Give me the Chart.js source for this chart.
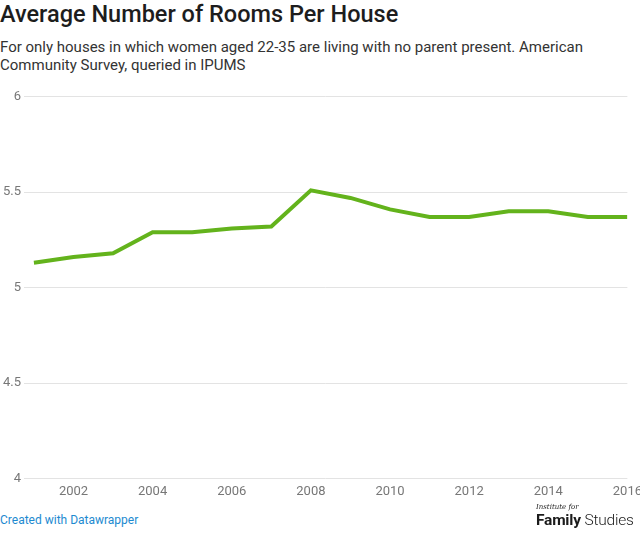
<!DOCTYPE html>
<html>
<head>
<meta charset="utf-8">
<script src="https://cdn.jsdelivr.net/npm/chart.js@4"></script>
<style>
  body { margin: 0; width: 640px; height: 533px; background: #fff; font-family: Roboto, sans-serif; position: relative; overflow: hidden; }
  #title { position: absolute; left: 0; top: 3px; font-size: 23.5px; line-height: 23.5px; font-weight: 500; color: #1d1d1d; white-space: nowrap; }
  #subtitle { position: absolute; left: 0; top: 38px; width: 600px; font-size: 15px; line-height: 18px; color: #333; }
  #wrap { position: absolute; left: 0; top: 86px; width: 648px; height: 420px; }
  #credit { position: absolute; left: 0; top: 513px; font-size: 12px; color: #1d8ad0; }
  #logo { position: absolute; left: 536px; top: 503px; color: #1b1b1b; white-space: nowrap; }
  #logo .small { font-family: "DejaVu Serif", serif; font-style: italic; font-size: 7px; line-height: 8px; }
  #logo .big { font-size: 15.5px; line-height: 18px; letter-spacing: -0.2px; }
  #logo b { font-weight: 700; }
  #logo span { font-weight: 300; }
</style>
</head>
<body>
<div id="title">Average Number of Rooms Per House</div>
<div id="subtitle">For only houses in which women aged 22-35 are living with no parent present. American Community Survey, queried in IPUMS</div>
<div id="wrap"><canvas id="chart"></canvas></div>
<div id="credit">Created with Datawrapper</div>
<div id="logo"><div class="small">Institute for</div><div class="big"><b>Family</b> <span>Studies</span></div></div>
<script>
const years = [2001, 2002, 2003, 2004, 2005, 2006, 2007, 2008, 2009, 2010, 2011, 2012, 2013, 2014, 2015, 2016];
const rooms = [5.13, 5.16, 5.18, 5.29, 5.29, 5.31, 5.32, 5.51, 5.47, 5.41, 5.37, 5.37, 5.40, 5.40, 5.37, 5.37];
const xTicks = [2002, 2004, 2006, 2008, 2010, 2012, 2014, 2016];
const yTicks = [4, 4.5, 5, 5.5, 6];

const points = years.map((y, i) => ({ x: y, y: rooms[i] }));

new Chart(document.getElementById('chart'), {
  type: 'line',
  data: {
    datasets: [{
      data: points,
      borderColor: '#63b31c',
      borderWidth: 4,
      pointRadius: 0,
      tension: 0
    }]
  },
  options: {
    responsive: true,
    maintainAspectRatio: false,
    animation: false,
    layout: { padding: { left: 0, right: 0, top: 4, bottom: 0 } },
    plugins: { legend: { display: false }, tooltip: { enabled: false } },
    scales: {
      x: {
        type: 'linear',
        min: 2000.75,
        max: 2016,
        afterBuildTicks: axis => { axis.ticks = xTicks.map(v => ({ value: v })); },
        grid: { display: false, drawTicks: false },
        border: { display: false },
        ticks: {
          color: '#777',
          font: { family: 'Roboto', size: 13 },
          padding: 6,
          maxRotation: 0,
          autoSkip: false,
          callback: v => String(v)
        }
      },
      y: {
        min: 4,
        max: 6,
        afterBuildTicks: axis => { axis.ticks = yTicks.map(v => ({ value: v })); },
        grid: { color: '#e3e3e3', drawTicks: false },
        border: { display: false },
        ticks: {
          color: '#777',
          font: { family: 'Roboto', size: 13 },
          padding: 3,
          callback: v => String(v)
        }
      }
    }
  }
});
</script>
</body>
</html>
